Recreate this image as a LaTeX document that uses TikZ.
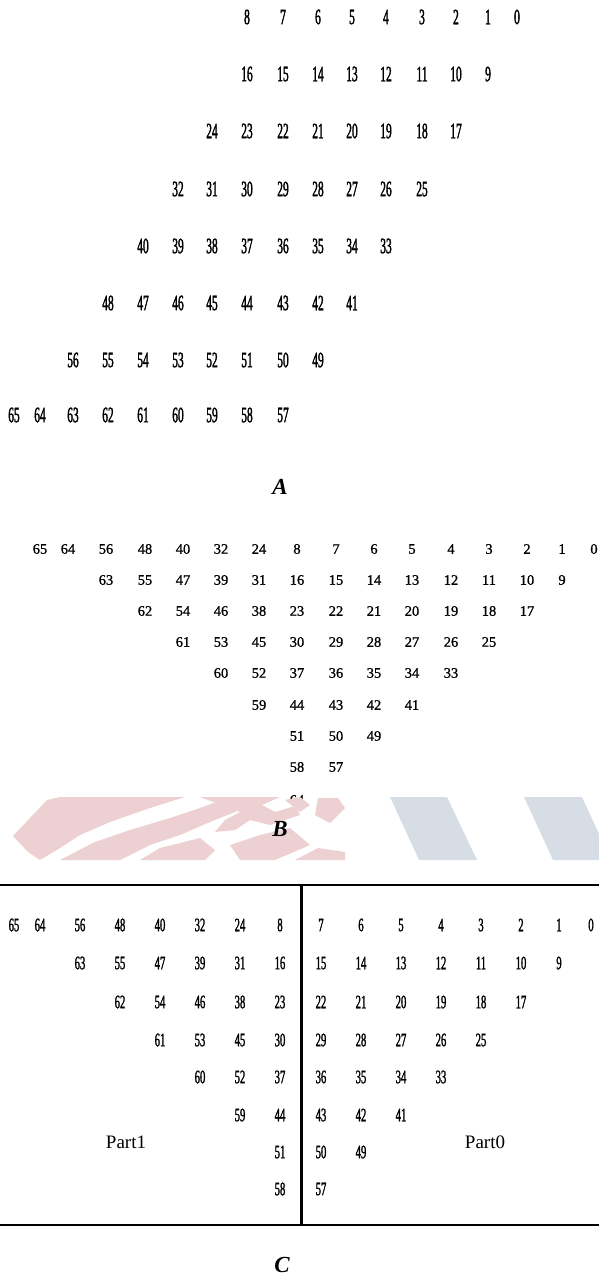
\documentclass[tikz,border=0pt]{standalone}
\usepackage{fontspec}
\setmainfont{Liberation Serif}
\newfontfamily\condfont[FakeStretch=0.52,FakeBold=1.6]{Liberation Serif}
\newfontfamily\condfontC[FakeStretch=0.56,FakeBold=1.4]{Liberation Serif}
\newfontfamily\plainfont[FakeBold=1.0]{Liberation Serif}
\begin{document}
\begin{tikzpicture}[x=1pt,y=-1pt,
  numA/.style={inner sep=0pt,font=\condfont\fontsize{22}{22}\selectfont},
  numB/.style={inner sep=0pt,font=\plainfont\fontsize{14.5}{14.5}\selectfont},
  numC/.style={inner sep=0pt,font=\condfontC\fontsize{19}{19}\selectfont},
  parttxt/.style={inner sep=0pt,font=\fontsize{19}{19}\selectfont},
  caption/.style={inner sep=0pt,font=\bfseries\itshape\fontsize{23}{23}\selectfont},
  rule/.style={line width=2.6pt,black},
  wmpink/.style={fill={rgb,255:red,236;green,208;blue,210},draw=none},
  wmgrey/.style={fill={rgb,255:red,214;green,221;blue,228},draw=none}]
\useasboundingbox (0,0) rectangle (599,1279);
\def\colA{{14,40,73,108,143,178,212,247,283,318,352,386,422,456,488,517}}
\def\colB{{40,68,106,145,183,221,259,297,336,374,412,451,489,527,562,594}}
\def\colC{{14,40,80,120,160,200,240,280,321,361,401,441,481,521,559,591}}
% ---------------- A ----------------
\foreach \yy/\s/\L in {
  17/7/{8,7,6,5,4,3,2,1,0},
  74/7/{16,15,14,13,12,11,10,9},
  131/6/{24,23,22,21,20,19,18,17},
  189/5/{32,31,30,29,28,27,26,25},
  246/4/{40,39,38,37,36,35,34,33},
  303/3/{48,47,46,45,44,43,42,41},
  360/2/{56,55,54,53,52,51,50,49},
  415/0/{65,64,63,62,61,60,59,58,57}} {
  \foreach[count=\k from \s] \n in \L {
    \pgfmathsetmacro\xx{\colA[\k]}
    \node[numA] (a\n) at (\xx,\yy) {\n};
  }
}
\node[caption] (capA) at (280,487) {A};
% ---------------- B ----------------
\foreach \yy/\s/\L in {
  549/0/{65,64,56,48,40,32,24,8,7,6,5,4,3,2,1,0},
  580/2/{63,55,47,39,31,16,15,14,13,12,11,10,9},
  611/3/{62,54,46,38,23,22,21,20,19,18,17},
  642/4/{61,53,45,30,29,28,27,26,25},
  673/5/{60,52,37,36,35,34,33},
  705/6/{59,44,43,42,41},
  736/7/{51,50,49},
  767/7/{58,57}} {
  \foreach[count=\k from \s] \n in \L {
    \pgfmathsetmacro\xx{\colB[\k]}
    \node[numB] (b\n) at (\xx,\yy) {\n};
  }
}
\begin{scope}
  \clip (280,790) rectangle (315,799);
  \node[numB] (bfrag) at (297,800) {64};
\end{scope}
% watermark
\fill[wmpink] (13,836) -- (47,800) -- (60,797) -- (185,797) -- (150,808) -- (110,822)
  -- (80,835) -- (60,848) -- (40,860) -- (28,852) -- cycle;
\fill[wmpink] (60,860) -- (95,842) -- (130,830) -- (170,818) -- (200,808) -- (230,797)
  -- (255,797) -- (240,810) -- (210,822) -- (180,835) -- (150,845) -- (120,860) -- cycle;
\fill[wmpink] (140,860) -- (160,848) -- (200,838) -- (215,850) -- (205,860) -- cycle;
\fill[wmpink] (200,797) -- (280,797) -- (262,805) -- (275,812) -- (295,806) -- (300,815)
  -- (270,825) -- (250,820) -- (235,830) -- (215,832) -- (225,820) -- (240,812) -- cycle;
\fill[wmpink] (240,860) -- (230,845) -- (260,835) -- (290,828) -- (310,845) -- (275,860) -- cycle;
\fill[wmpink] (285,800) -- (300,797) -- (310,805) -- (300,812) -- cycle;
\fill[wmpink] (318,798) -- (338,798) -- (345,808) -- (330,823) -- (315,815) -- cycle;
\fill[wmpink] (295,860) -- (318,848) -- (345,852) -- (345,860) -- cycle;
\fill[wmgrey] (390,797) -- (447,797) -- (477,860) -- (419,860) -- cycle;
\fill[wmgrey] (524,797) -- (582,797) -- (599,834) -- (599,860) -- (553,860) -- cycle;
\node[caption] (capB) at (280,829) {B};
% ---------------- C ----------------
\coordinate (topL) at (0,885);
\coordinate (topR) at (599,885);
\coordinate (botL) at (0,1225);
\coordinate (botR) at (599,1225);
\coordinate (midT) at (301.5,885);
\coordinate (midB) at (301.5,1225);
\draw[rule] (topL) -- (topR);
\draw[rule] (botL) -- (botR);
\draw[rule] (midT) -- (midB);
\foreach \yy/\s/\L in {
  925/0/{65,64,56,48,40,32,24,8,7,6,5,4,3,2,1,0},
  963/2/{63,55,47,39,31,16,15,14,13,12,11,10,9},
  1002/3/{62,54,46,38,23,22,21,20,19,18,17},
  1040/4/{61,53,45,30,29,28,27,26,25},
  1077/5/{60,52,37,36,35,34,33},
  1115/6/{59,44,43,42,41},
  1152/7/{51,50,49},
  1189/7/{58,57}} {
  \foreach[count=\k from \s] \n in \L {
    \pgfmathsetmacro\xx{\colC[\k]}
    \node[numC] (c\n) at (\xx,\yy) {\n};
  }
}
\node[parttxt] (part1) at (126,1142) {Part1};
\node[parttxt] (part0) at (485,1142) {Part0};
\node[caption] (capC) at (282,1265) {C};
\end{tikzpicture}
\end{document}
